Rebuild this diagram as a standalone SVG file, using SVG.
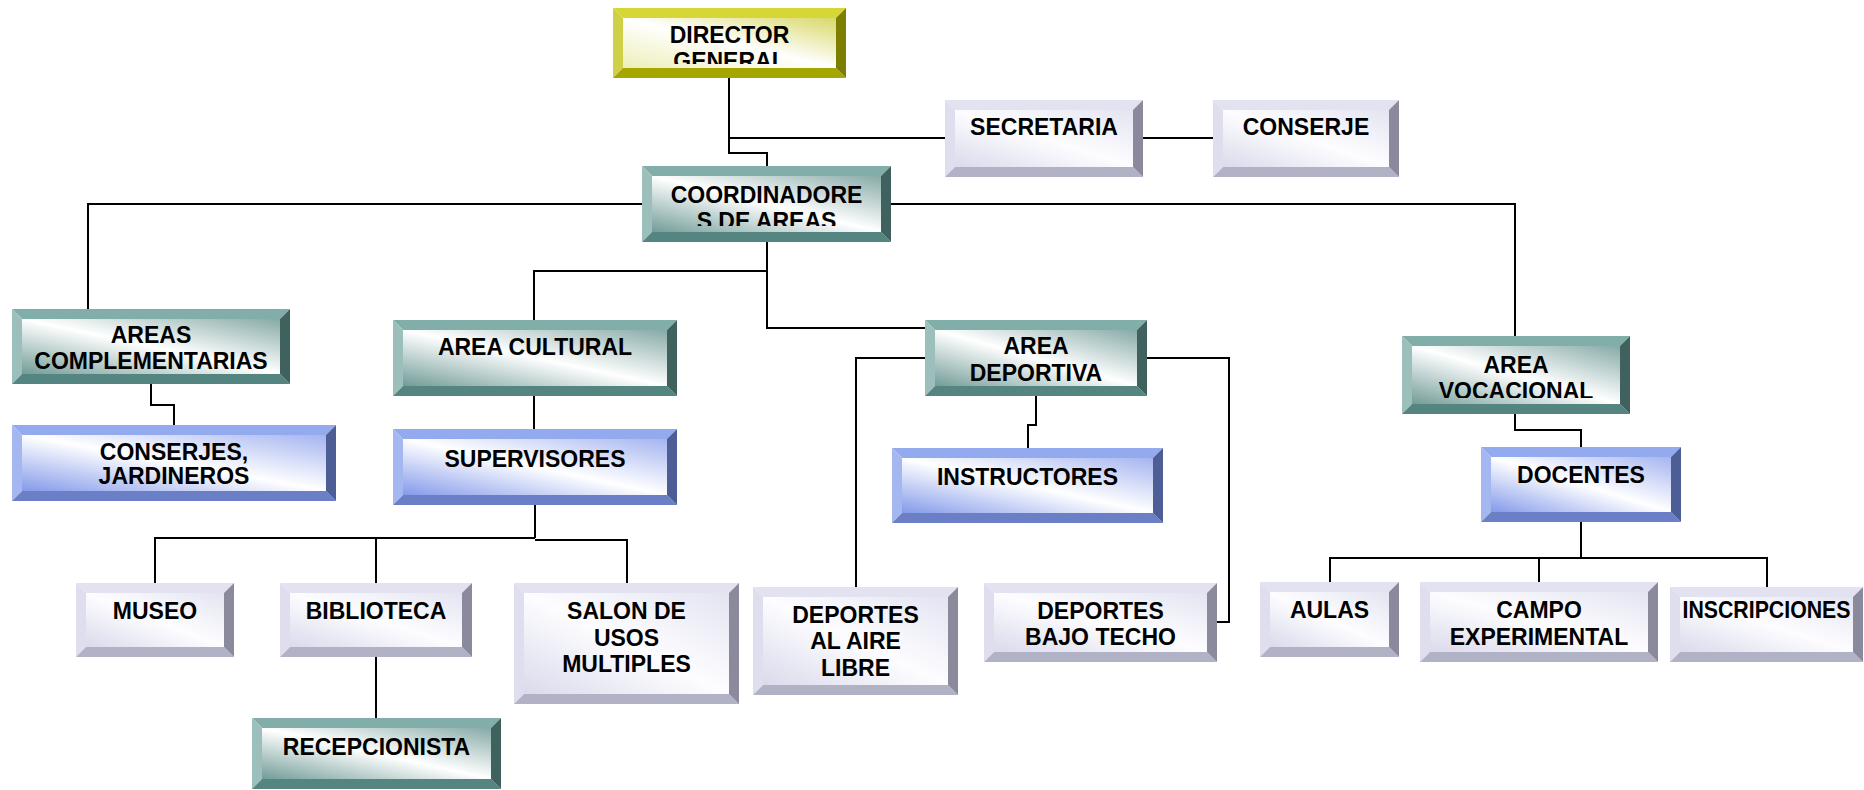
<svg xmlns="http://www.w3.org/2000/svg" width="1864" height="790" viewBox="0 0 1864 790">
<style>
text{font-family:"Liberation Sans",Arial,sans-serif;font-weight:bold;font-size:23px;text-anchor:middle;fill:#000}
.con path{fill:none;stroke:#000;stroke-width:2}
.yel .t{fill:#d6d637}.yel .l{fill:#cfcf48}.yel .b{fill:#a6a600}.yel .r{fill:#7d7d00}.yel .f{fill:url(#gy)}
.tea .t{fill:#82aeaa}.tea .l{fill:#9cbfbb}.tea .b{fill:#558580}.tea .r{fill:#3f625f}.tea .f{fill:url(#gt)}
.blu .t{fill:#93abee}.blu .l{fill:#a4b7f0}.blu .b{fill:#6a7fc5}.blu .r{fill:#4d5d95}.blu .f{fill:url(#gb)}
.gry .t{fill:#e2e2f0}.gry .l{fill:#dedeee}.gry .b{fill:#b2b2c6}.gry .r{fill:#8a8a9c}.gry .f{fill:url(#gg)}
</style>
<defs>
<linearGradient id="gy" x1="0" y1="1" x2="1" y2="0"><stop offset="0" stop-color="#eeeeb8"/><stop offset="0.5" stop-color="#ffffff"/><stop offset="1" stop-color="#d8d868"/></linearGradient>
<linearGradient id="gt" x1="0" y1="1" x2="1" y2="0"><stop offset="0" stop-color="#729c98"/><stop offset="0.5" stop-color="#ffffff"/><stop offset="1" stop-color="#86aaa7"/></linearGradient>
<linearGradient id="gb" x1="0" y1="1" x2="1" y2="0"><stop offset="0" stop-color="#849aea"/><stop offset="0.5" stop-color="#ffffff"/><stop offset="1" stop-color="#a4b4f0"/></linearGradient>
<linearGradient id="gg" x1="0" y1="1" x2="1" y2="0"><stop offset="0" stop-color="#dadaec"/><stop offset="0.5" stop-color="#fdfdff"/><stop offset="1" stop-color="#e4e4f2"/></linearGradient>
<clipPath id="c1"><rect x="623" y="18" width="213" height="46"/></clipPath>
<clipPath id="c4"><rect x="652" y="176" width="229" height="50"/></clipPath>
<clipPath id="c17"><rect x="1412" y="346" width="208" height="52"/></clipPath>
</defs>
<rect width="1864" height="790" fill="#fff"/>
<g class="con">
<path d="M729,78 V153 H767 V166"/>
<path d="M729,138 H945"/>
<path d="M1143,138 H1213"/>
<path d="M88,309 V204 H642"/>
<path d="M891,204 H1515 V336"/>
<path d="M767,242 V328 H925"/>
<path d="M767,271 H534 V320"/>
<path d="M151,384 V405 H174 V425"/>
<path d="M534,396 V429"/>
<path d="M535,505 V538"/>
<path d="M155,583 V538 H535 M535,540 H627 V583"/>
<path d="M376,538 V583"/>
<path d="M376,657 V718"/>
<path d="M925,358 H856 V587"/>
<path d="M1147,358 H1229 V622 H1217"/>
<path d="M1036,396 V425 H1028 V448"/>
<path d="M1515,414 V430 H1581 V447"/>
<path d="M1581,522 V558"/>
<path d="M1330,582 V558 H1767 V587"/>
<path d="M1539,558 V582"/>
</g>
<g id="n-director" class="yel">
<polygon class="t" points="613,8 846,8 836,18 623,18"/><polygon class="l" points="613,8 623,18 623,68 613,78"/><polygon class="b" points="613,78 623,68 836,68 846,78"/><polygon class="r" points="846,8 846,78 836,68 836,18"/><rect class="f" x="623" y="18" width="213" height="50"/>
<g clip-path="url(#c1)"><text x="729.5" y="43">DIRECTOR</text><text x="729.5" y="69">GENERAL</text></g>
</g>
<g id="n-secretaria" class="gry">
<polygon class="t" points="945,100 1143,100 1133,110 955,110"/><polygon class="l" points="945,100 955,110 955,167 945,177"/><polygon class="b" points="945,177 955,167 1133,167 1143,177"/><polygon class="r" points="1143,100 1143,177 1133,167 1133,110"/><rect class="f" x="955" y="110" width="178" height="57"/>
<text x="1044" y="135">SECRETARIA</text>
</g>
<g id="n-conserje" class="gry">
<polygon class="t" points="1213,100 1399,100 1389,110 1223,110"/><polygon class="l" points="1213,100 1223,110 1223,167 1213,177"/><polygon class="b" points="1213,177 1223,167 1389,167 1399,177"/><polygon class="r" points="1399,100 1399,177 1389,167 1389,110"/><rect class="f" x="1223" y="110" width="166" height="57"/>
<text x="1306" y="135">CONSERJE</text>
</g>
<g id="n-coordinadores" class="tea">
<polygon class="t" points="642,166 891,166 881,176 652,176"/><polygon class="l" points="642,166 652,176 652,232 642,242"/><polygon class="b" points="642,242 652,232 881,232 891,242"/><polygon class="r" points="891,166 891,242 881,232 881,176"/><rect class="f" x="652" y="176" width="229" height="56"/>
<g clip-path="url(#c4)"><text x="766.5" y="203">COORDINADORE</text><text x="766.5" y="229">S DE AREAS</text></g>
</g>
<g id="n-areas-complementarias" class="tea">
<polygon class="t" points="12,309 290,309 280,319 22,319"/><polygon class="l" points="12,309 22,319 22,374 12,384"/><polygon class="b" points="12,384 22,374 280,374 290,384"/><polygon class="r" points="290,309 290,384 280,374 280,319"/><rect class="f" x="22" y="319" width="258" height="55"/>
<text x="151" y="343">AREAS</text><text x="151" y="369">COMPLEMENTARIAS</text>
</g>
<g id="n-conserjes" class="blu">
<polygon class="t" points="12,425 336,425 326,435 22,435"/><polygon class="l" points="12,425 22,435 22,491 12,501"/><polygon class="b" points="12,501 22,491 326,491 336,501"/><polygon class="r" points="336,425 336,501 326,491 326,435"/><rect class="f" x="22" y="435" width="304" height="56"/>
<text x="174" y="460">CONSERJES,</text><text x="174" y="484">JARDINEROS</text>
</g>
<g id="n-area-cultural" class="tea">
<polygon class="t" points="393,320 677,320 667,330 403,330"/><polygon class="l" points="393,320 403,330 403,386 393,396"/><polygon class="b" points="393,396 403,386 667,386 677,396"/><polygon class="r" points="677,320 677,396 667,386 667,330"/><rect class="f" x="403" y="330" width="264" height="56"/>
<text x="535" y="355">AREA CULTURAL</text>
</g>
<g id="n-supervisores" class="blu">
<polygon class="t" points="393,429 677,429 667,439 403,439"/><polygon class="l" points="393,429 403,439 403,495 393,505"/><polygon class="b" points="393,505 403,495 667,495 677,505"/><polygon class="r" points="677,429 677,505 667,495 667,439"/><rect class="f" x="403" y="439" width="264" height="56"/>
<text x="535" y="467">SUPERVISORES</text>
</g>
<g id="n-museo" class="gry">
<polygon class="t" points="76,583 234,583 224,593 86,593"/><polygon class="l" points="76,583 86,593 86,647 76,657"/><polygon class="b" points="76,657 86,647 224,647 234,657"/><polygon class="r" points="234,583 234,657 224,647 224,593"/><rect class="f" x="86" y="593" width="138" height="54"/>
<text x="155" y="619">MUSEO</text>
</g>
<g id="n-biblioteca" class="gry">
<polygon class="t" points="280,583 472,583 462,593 290,593"/><polygon class="l" points="280,583 290,593 290,647 280,657"/><polygon class="b" points="280,657 290,647 462,647 472,657"/><polygon class="r" points="472,583 472,657 462,647 462,593"/><rect class="f" x="290" y="593" width="172" height="54"/>
<text x="376" y="619">BIBLIOTECA</text>
</g>
<g id="n-salon" class="gry">
<polygon class="t" points="514,583 739,583 729,593 524,593"/><polygon class="l" points="514,583 524,593 524,694 514,704"/><polygon class="b" points="514,704 524,694 729,694 739,704"/><polygon class="r" points="739,583 739,704 729,694 729,593"/><rect class="f" x="524" y="593" width="205" height="101"/>
<text x="626.5" y="619">SALON DE</text><text x="626.5" y="646">USOS</text><text x="626.5" y="672">MULTIPLES</text>
</g>
<g id="n-recepcionista" class="tea">
<polygon class="t" points="252,718 501,718 491,728 262,728"/><polygon class="l" points="252,718 262,728 262,779 252,789"/><polygon class="b" points="252,789 262,779 491,779 501,789"/><polygon class="r" points="501,718 501,789 491,779 491,728"/><rect class="f" x="262" y="728" width="229" height="51"/>
<text x="376.5" y="755">RECEPCIONISTA</text>
</g>
<g id="n-area-deportiva" class="tea">
<polygon class="t" points="925,320 1147,320 1137,330 935,330"/><polygon class="l" points="925,320 935,330 935,386 925,396"/><polygon class="b" points="925,396 935,386 1137,386 1147,396"/><polygon class="r" points="1147,320 1147,396 1137,386 1137,330"/><rect class="f" x="935" y="330" width="202" height="56"/>
<text x="1036" y="354">AREA</text><text x="1036" y="381">DEPORTIVA</text>
</g>
<g id="n-instructores" class="blu">
<polygon class="t" points="892,448 1163,448 1153,458 902,458"/><polygon class="l" points="892,448 902,458 902,513 892,523"/><polygon class="b" points="892,523 902,513 1153,513 1163,523"/><polygon class="r" points="1163,448 1163,523 1153,513 1153,458"/><rect class="f" x="902" y="458" width="251" height="55"/>
<text x="1027.5" y="485">INSTRUCTORES</text>
</g>
<g id="n-deportes-aire" class="gry">
<polygon class="t" points="753,587 958,587 948,597 763,597"/><polygon class="l" points="753,587 763,597 763,685 753,695"/><polygon class="b" points="753,695 763,685 948,685 958,695"/><polygon class="r" points="958,587 958,695 948,685 948,597"/><rect class="f" x="763" y="597" width="185" height="88"/>
<text x="855.5" y="623">DEPORTES</text><text x="855.5" y="649">AL AIRE</text><text x="855.5" y="676">LIBRE</text>
</g>
<g id="n-deportes-techo" class="gry">
<polygon class="t" points="984,583 1217,583 1207,593 994,593"/><polygon class="l" points="984,583 994,593 994,652 984,662"/><polygon class="b" points="984,662 994,652 1207,652 1217,662"/><polygon class="r" points="1217,583 1217,662 1207,652 1207,593"/><rect class="f" x="994" y="593" width="213" height="59"/>
<text x="1100.5" y="619">DEPORTES</text><text x="1100.5" y="645">BAJO TECHO</text>
</g>
<g id="n-area-vocacional" class="tea">
<polygon class="t" points="1402,336 1630,336 1620,346 1412,346"/><polygon class="l" points="1402,336 1412,346 1412,404 1402,414"/><polygon class="b" points="1402,414 1412,404 1620,404 1630,414"/><polygon class="r" points="1630,336 1630,414 1620,404 1620,346"/><rect class="f" x="1412" y="346" width="208" height="58"/>
<g clip-path="url(#c17)"><text x="1516" y="373">AREA</text><text x="1516" y="399">VOCACIONAL</text></g>
</g>
<g id="n-docentes" class="blu">
<polygon class="t" points="1481,447 1681,447 1671,457 1491,457"/><polygon class="l" points="1481,447 1491,457 1491,512 1481,522"/><polygon class="b" points="1481,522 1491,512 1671,512 1681,522"/><polygon class="r" points="1681,447 1681,522 1671,512 1671,457"/><rect class="f" x="1491" y="457" width="180" height="55"/>
<text x="1581" y="483">DOCENTES</text>
</g>
<g id="n-aulas" class="gry">
<polygon class="t" points="1260,582 1399,582 1389,592 1270,592"/><polygon class="l" points="1260,582 1270,592 1270,647 1260,657"/><polygon class="b" points="1260,657 1270,647 1389,647 1399,657"/><polygon class="r" points="1399,582 1399,657 1389,647 1389,592"/><rect class="f" x="1270" y="592" width="119" height="55"/>
<text x="1329.5" y="618">AULAS</text>
</g>
<g id="n-campo" class="gry">
<polygon class="t" points="1420,582 1658,582 1648,592 1430,592"/><polygon class="l" points="1420,582 1430,592 1430,652 1420,662"/><polygon class="b" points="1420,662 1430,652 1648,652 1658,662"/><polygon class="r" points="1658,582 1658,662 1648,652 1648,592"/><rect class="f" x="1430" y="592" width="218" height="60"/>
<text x="1539" y="618">CAMPO</text><text x="1539" y="645">EXPERIMENTAL</text>
</g>
<g id="n-inscripciones" class="gry">
<polygon class="t" points="1670,587 1863,587 1853,597 1680,597"/><polygon class="l" points="1670,587 1680,597 1680,652 1670,662"/><polygon class="b" points="1670,662 1680,652 1853,652 1863,662"/><polygon class="r" points="1863,587 1863,662 1853,652 1853,597"/><rect class="f" x="1680" y="597" width="173" height="55"/>
<text x="1766.5" y="618" textLength="168" lengthAdjust="spacingAndGlyphs">INSCRIPCIONES</text>
</g>
</svg>
